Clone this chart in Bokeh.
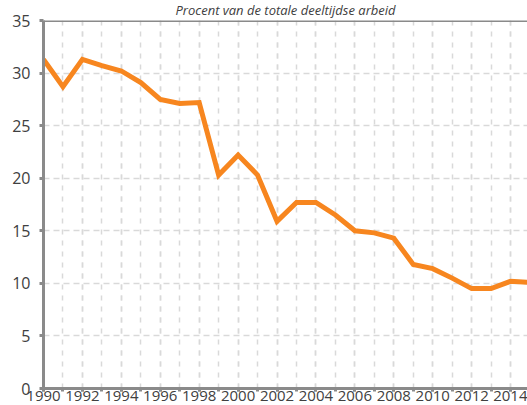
from bokeh.plotting import figure
from bokeh.models import Range1d, SingleIntervalTicker, Span, ColumnDataSource
from bokeh.embed import file_html
from bokeh.resources import INLINE

# Data
years = [1990, 1991, 1992, 1993, 1994, 1995, 1996, 1997, 1998, 1999, 2000, 2001, 2002,
         2003, 2004, 2005, 2006, 2007, 2008, 2009, 2010, 2011, 2012, 2013, 2014, 2015]
share = [31.3, 28.7, 31.3, 30.7, 30.2, 29.1, 27.5, 27.1, 27.2, 20.3, 22.2, 20.3, 15.9,
         17.7, 17.7, 16.5, 15.0, 14.8, 14.3, 11.8, 11.4, 10.5, 9.5, 9.5, 10.2, 10.1]
title_text = "Procent van de totale deeltijdse arbeid"

FONT = "Open Sans"
AXIS_GREY = "#8a8a8a"
GRID_GREY = "#d9d9d9"
LABEL_COL = "#404040"
ORANGE = "#F7861F"

p = figure(width=527, height=405, output_backend="svg", toolbar_location=None,
           x_range=Range1d(1990, 2014.87), y_range=Range1d(0, 35),
           min_border_left=43, min_border_right=0, min_border_top=17, min_border_bottom=17)
p.outline_line_color = None
p.background_fill_color = "white"
p.border_fill_color = "white"

p.title.text = title_text
p.title.align = "center"
p.title.offset = -15
p.title.standoff = 0
p.title.vertical_align = "top"
p.title.text_font = FONT
p.title.text_font_size = "13px"
p.title.text_font_style = "italic"
p.title.text_color = LABEL_COL

xt = SingleIntervalTicker(interval=2, num_minor_ticks=2)
yt = SingleIntervalTicker(interval=5, num_minor_ticks=0)
p.xaxis.ticker = xt
p.yaxis.ticker = yt
p.xgrid.ticker = xt
p.ygrid.ticker = yt

for g in (p.xgrid, p.ygrid):
    g.grid_line_color = GRID_GREY
    g.grid_line_width = 1.5
p.xgrid.grid_line_dash = "5 6"
p.xgrid.minor_grid_line_color = GRID_GREY
p.xgrid.minor_grid_line_width = 1.5
p.xgrid.minor_grid_line_dash = "5 6"
p.ygrid.grid_line_dash = "6 4"

for ax in (p.xaxis, p.yaxis):
    ax.axis_line_color = AXIS_GREY
    ax.axis_line_width = 3
    ax.major_tick_line_color = AXIS_GREY
    ax.major_tick_line_width = 3
    ax.major_tick_in = 0
    ax.major_label_text_font = FONT
    ax.major_label_text_color = LABEL_COL

p.yaxis.major_label_text_font_size = "16px"
p.xaxis.major_label_text_font_size = "15px"

p.xaxis.major_tick_out = 3
p.xaxis.minor_tick_out = 3
p.xaxis.minor_tick_in = 0
p.xaxis.minor_tick_line_color = AXIS_GREY
p.xaxis.minor_tick_line_width = 3
p.xaxis.major_label_standoff = -1

p.yaxis.major_tick_out = 4
p.yaxis.minor_tick_line_color = None
p.yaxis.major_label_standoff = 9

p.add_layout(Span(location=35, dimension="width", line_color=AXIS_GREY, line_width=3))

src = ColumnDataSource(dict(year=years, share=share))
p.line("year", "share", source=src, line_color=ORANGE, line_width=5, line_join="miter")

open("out.html", "w").write(file_html(p, INLINE))
